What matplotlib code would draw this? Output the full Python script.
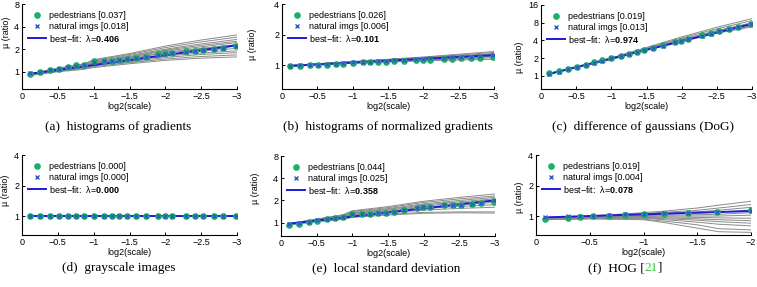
import numpy as np
import matplotlib
matplotlib.use("Agg")
import matplotlib.pyplot as plt
from matplotlib.offsetbox import TextArea, HPacker, AnnotationBbox

plt.rcParams["font.family"] = ["Liberation Sans", "DejaVu Sans"]
plt.rcParams["mathtext.fontset"] = "custom"
plt.rcParams["mathtext.rm"] = "Liberation Sans"
plt.rcParams["mathtext.bf"] = "Liberation Sans:bold"

# x positions of the scales (log2(scale))
xs = [-0.11, -0.25, -0.39, -0.51, -0.64, -0.76, -0.87, -1.0, -1.14, -1.25, -1.36, -1.47,
      -1.59, -1.73, -1.90, -1.99, -2.09, -2.29, -2.41, -2.53, -2.68, -2.80, -2.99]
xs_f = [-0.084, -0.295, -0.41, -0.53, -0.68, -0.83, -1.0, -1.19, -1.41, -1.68, -2.0]

# (a) histograms of gradients
ped_a = [0.93, 0.99, 1.05, 1.10, 1.16, 1.22, 1.25, 1.38, 1.39, 1.41, 1.44, 1.47,
         1.52, 1.57, 1.70, 1.76, 1.80, 1.88, 1.92, 1.96, 2.03, 2.10, 2.24]
nat_a = [0.95, 1.00, 1.05, 1.10, 1.16, 1.21, 1.25, 1.36, 1.38, 1.40, 1.43, 1.47,
         1.52, 1.57, 1.67, 1.74, 1.80, 1.86, 1.90, 1.94, 2.02, 2.10, 2.20]
fit_a = [0.94, 2.25]
nodes_a = [-0.1, -0.5, -0.87, -1.0, -1.5, -2.0, -2.5, -3.0]
gray_a = [[0.93, 1.12, 1.28, 1.45, 1.75, 2.20, 2.65, 3.10],
          [0.93, 1.10, 1.26, 1.42, 1.70, 2.10, 2.50, 2.90],
          [0.92, 1.09, 1.24, 1.38, 1.65, 2.00, 2.35, 2.70],
          [0.92, 1.08, 1.22, 1.35, 1.60, 1.95, 2.25, 2.55],
          [0.92, 1.08, 1.21, 1.33, 1.57, 1.90, 2.15, 2.45],
          [0.91, 1.07, 1.20, 1.30, 1.53, 1.83, 2.05, 2.30],
          [0.91, 1.06, 1.18, 1.28, 1.50, 1.78, 1.98, 2.20],
          [0.91, 1.05, 1.16, 1.25, 1.45, 1.70, 1.88, 2.05],
          [0.90, 1.04, 1.14, 1.22, 1.40, 1.62, 1.78, 1.90],
          [0.90, 1.03, 1.12, 1.20, 1.36, 1.55, 1.70, 1.80],
          [0.90, 1.02, 1.10, 1.17, 1.32, 1.48, 1.60, 1.68],
          [0.89, 1.00, 1.08, 1.14, 1.28, 1.42, 1.52, 1.58]]

# (b) histograms of normalized gradients
ped_b = [0.97, 0.98, 0.99, 1.00, 1.01, 1.02, 1.03, 1.05, 1.06, 1.06, 1.07, 1.08,
         1.09, 1.10, 1.11, 1.12, 1.13, 1.14, 1.15, 1.16, 1.17, 1.18, 1.21]
nat_b = [0.98, 0.99, 1.00, 1.01, 1.02, 1.03, 1.04, 1.06, 1.07, 1.08, 1.09, 1.10,
         1.11, 1.12, 1.14, 1.15, 1.16, 1.18, 1.19, 1.20, 1.21, 1.23, 1.26]
fit_b = [0.98, 1.25]
nodes_b = [-0.1, -1.0, -2.0, -3.0]
gray_b = [[0.97, 1.04, 1.10, 1.14], [0.97, 1.05, 1.12, 1.18], [0.98, 1.05, 1.13, 1.21],
          [0.98, 1.06, 1.15, 1.24], [0.98, 1.07, 1.16, 1.27], [0.99, 1.07, 1.18, 1.30],
          [0.99, 1.08, 1.19, 1.33], [0.99, 1.08, 1.20, 1.36], [0.98, 1.06, 1.14, 1.22],
          [0.98, 1.07, 1.17, 1.28]]

# (c) difference of gaussians
ped_c = [1.10, 1.19, 1.31, 1.43, 1.56, 1.70, 1.84, 2.00, 2.20, 2.37, 2.57, 2.78,
         3.00, 3.30, 3.72, 3.98, 4.25, 4.90, 5.30, 5.75, 6.35, 6.90, 7.70]
nat_c = [1.08, 1.18, 1.30, 1.42, 1.55, 1.68, 1.82, 1.98, 2.18, 2.35, 2.55, 2.75,
         2.98, 3.28, 3.70, 3.95, 4.20, 4.85, 5.25, 5.70, 6.30, 6.85, 7.60]
fit_c = [1.08, 7.6]
nodes_c = [-0.1, -1.0, -1.5, -2.0, -2.5, -3.0]
gray_c = [[1.08, 1.98, 2.90, 4.20, 5.90, 8.00],
          [1.07, 1.95, 2.85, 4.10, 5.70, 7.60],
          [1.06, 1.92, 2.80, 4.00, 5.50, 7.20],
          [1.08, 2.00, 2.95, 4.40, 6.30, 8.70],
          [1.09, 2.02, 3.05, 4.60, 6.70, 9.40],
          [1.07, 1.96, 2.85, 4.05, 5.60, 7.00],
          [1.06, 1.90, 2.75, 3.90, 5.30, 6.80]]

# (d) grayscale images
ped_d = [1.0] * len(xs)
nat_d = [1.0] * len(xs)
fit_d = [1.0, 1.0]
nodes_d = [-0.1, -3.0]
gray_d = [[1.0, 1.0]]

# (e) local standard deviation
ped_e = [0.92, 0.96, 1.02, 1.07, 1.12, 1.16, 1.20, 1.32, 1.33, 1.33, 1.35, 1.37,
         1.40, 1.48, 1.57, 1.62, 1.62, 1.72, 1.73, 1.75, 1.78, 1.82, 1.90]
nat_e = [0.95, 0.98, 1.03, 1.08, 1.13, 1.16, 1.20, 1.32, 1.32, 1.33, 1.35, 1.37,
         1.40, 1.47, 1.58, 1.62, 1.64, 1.71, 1.73, 1.75, 1.80, 1.86, 2.00]
fit_e = [0.97, 2.0]
nodes_e = [-0.1, -0.5, -0.87, -1.0, -1.5, -2.0, -2.5, -3.0]
gray_e = [[0.96, 1.12, 1.28, 1.45, 1.65, 1.95, 2.20, 2.45],
          [0.96, 1.11, 1.26, 1.42, 1.60, 1.88, 2.10, 2.30],
          [0.95, 1.10, 1.24, 1.38, 1.55, 1.80, 2.00, 2.20],
          [0.95, 1.09, 1.22, 1.35, 1.52, 1.74, 1.92, 2.10],
          [0.95, 1.08, 1.20, 1.32, 1.48, 1.68, 1.85, 2.00],
          [0.94, 1.07, 1.18, 1.29, 1.44, 1.62, 1.76, 1.88],
          [0.94, 1.06, 1.16, 1.26, 1.40, 1.55, 1.66, 1.75],
          [0.93, 1.05, 1.14, 1.23, 1.36, 1.48, 1.56, 1.62],
          [0.93, 1.04, 1.12, 1.20, 1.30, 1.38, 1.40, 1.40],
          [0.93, 1.03, 1.11, 1.18, 1.27, 1.34, 1.36, 1.35]]

# (f) HOG
ped_f = [0.94, 0.96, 0.98, 0.99, 1.00, 1.02, 1.04, 1.05, 1.07, 1.09, 1.15]
nat_f = [0.97, 0.99, 1.00, 1.01, 1.02, 1.04, 1.05, 1.06, 1.08, 1.09, 1.13]
fit_f = [0.97, 1.12]
nodes_f = [-0.084, -0.5, -1.0, -1.2, -1.5, -1.7, -2.0]
gray_f = [[0.96, 1.00, 1.08, 1.12, 1.20, 1.28, 1.40],
          [0.95, 0.99, 1.06, 1.09, 1.14, 1.20, 1.30],
          [0.95, 0.99, 1.05, 1.07, 1.10, 1.14, 1.22],
          [0.95, 0.98, 1.03, 1.05, 1.07, 1.09, 1.15],
          [0.94, 0.97, 1.01, 1.02, 1.03, 1.04, 1.08],
          [0.94, 0.97, 0.99, 1.00, 1.00, 1.00, 1.02],
          [0.94, 0.96, 0.98, 0.98, 0.97, 0.96, 0.95],
          [0.93, 0.96, 0.97, 0.96, 0.94, 0.92, 0.90],
          [0.93, 0.95, 0.96, 0.94, 0.91, 0.88, 0.85],
          [0.93, 0.95, 0.95, 0.92, 0.87, 0.83, 0.80],
          [0.92, 0.94, 0.93, 0.89, 0.82, 0.75, 0.73],
          [0.92, 0.94, 0.92, 0.86, 0.76, 0.70, 0.69]]

ped_err = ["0.037", "0.026", "0.019", "0.000", "0.044", "0.019"]
nat_err = ["0.018", "0.006", "0.013", "0.000", "0.025", "0.004"]
lambdas = ["0.406", "0.101", "0.974", "0.000", "0.358", "0.078"]

W, H = 757, 287
fig = plt.figure(figsize=(W / 100, H / 100), dpi=100)

GREEN = "#1fae66"
BLUE_X = "#2b5cc8"
BLUE_LINE = "#1a1ae0"
GRAY = "#8a8a8a"


def panel(box, x, ped, nat, fit, nodes, gray, ymax, yticks, xmin, pe, ne, lam, ylab, ybot):
    L, R, T, B = box
    ax = fig.add_axes([L / W, 1 - B / H, (R - L) / W, (B - T) / H])
    for g in gray:
        ax.plot(nodes, g, color=GRAY, lw=0.7, zorder=1)
    ax.plot([x[0], x[-1]], fit, color=BLUE_LINE, lw=1.4, zorder=2,
            label=r"best−fit:  λ=$\mathbf{" + lam + "}$")
    ax.plot(x, ped, "o", color=GREEN, ms=3.8, mec=GREEN, zorder=3,
            label="pedestrians [" + pe + "]")
    ax.plot(x, nat, "x", color=BLUE_X, ms=3.2, mew=1.0, zorder=4,
            label="natural imgs [" + ne + "]")
    ax.set_yscale("log", base=2)
    ax.set_ylim(ybot, ymax)
    ax.set_yticks(yticks)
    ax.set_yticklabels([str(t) for t in yticks])
    ax.minorticks_off()
    ax.set_xlim(0, xmin)
    xt = np.arange(0, xmin - 0.01, -0.5)
    ax.set_xticks(xt)
    ax.set_xticklabels(["0" if t == 0 else ("−%g" % -t) for t in xt])
    ax.tick_params(direction="in", length=2.5, width=0.7, labelsize=6.5, pad=2)
    for s in ["top", "right"]:
        ax.spines[s].set_visible(False)
    for s in ["left", "bottom"]:
        ax.spines[s].set_linewidth(0.8)
    ax.set_xlabel("log2(scale)", fontsize=6.5, labelpad=1)
    ax.set_ylabel("µ (ratio)", fontsize=6.5)
    ax.yaxis.set_label_coords(ylab[0], ylab[1])
    h, l = ax.get_legend_handles_labels()
    ax.legend([h[1], h[2], h[0]], [l[1], l[2], l[0]], loc="upper left",
              bbox_to_anchor=(6 / (R - L), 1 - 7 / (B - T)), borderaxespad=0,
              borderpad=0, frameon=False, fontsize=6.5, handlelength=2.0,
              handletextpad=0.3, labelspacing=0.2, numpoints=1)
    return ax


panel((22, 237, 4, 89), xs, ped_a, nat_a, fit_a, nodes_a, gray_a, 8, [1, 2, 4, 8], -3,
      ped_err[0], nat_err[0], lambdas[0], (-0.051, 0.67), 0.59)
panel((282, 494, 4, 89), xs, ped_b, nat_b, fit_b, nodes_b, gray_b, 4, [1, 2, 4], -3,
      ped_err[1], nat_err[1], lambdas[1], (-0.118, 0.52), 0.58)
panel((541, 752, 5, 89), xs, ped_c, nat_c, fit_c, nodes_c, gray_c, 16, [1, 2, 4, 8, 16], -3,
      ped_err[2], nat_err[2], lambdas[2], (-0.081, 0.38), 0.6)
panel((22, 237, 155, 235), xs, ped_d, nat_d, fit_d, nodes_d, gray_d, 4, [1, 2, 4], -3,
      ped_err[3], nat_err[3], lambdas[3], (-0.056, 0.56), 0.65)
panel((281, 495, 156, 236), xs, ped_e, nat_e, fit_e, nodes_e, gray_e, 8, [1, 2, 4, 8], -3,
      ped_err[4], nat_err[4], lambdas[4], (-0.098, 0.59), 0.66)
panel((536, 751, 155, 235), xs_f, ped_f, nat_f, fit_f, nodes_f, gray_f, 4, [1, 2, 4], -2,
      ped_err[5], nat_err[5], lambdas[5], (-0.056, 0.475), 0.65)

cap = dict(family=["Liberation Serif", "DejaVu Serif"], fontsize=9.5, ha="center", va="center")
fig.text(118 / W, 1 - 127 / H, "(a)  histograms of gradients", **cap)
fig.text(388 / W, 1 - 127 / H, "(b)  histograms of normalized gradients", **cap)
fig.text(643 / W, 1 - 127 / H, "(c)  difference of gaussians (DoG)", **cap)
fig.text(119 / W, 1 - 268 / H, "(d)  grayscale images", **cap)
fig.text(386 / W, 1 - 268 / H, "(e)  local standard deviation", **cap)

tp = dict(family=["Liberation Serif", "DejaVu Serif"], fontsize=9.5)
parts = HPacker(children=[TextArea("(f)  HOG [", textprops=tp),
                          TextArea("21", textprops=dict(tp, color="#33cc33")),
                          TextArea("]", textprops=tp)],
                sep=0, pad=0, align="baseline")
fig.add_artist(AnnotationBbox(parts, (625 / W, 1 - 268 / H), xycoords="figure fraction",
                              frameon=False, box_alignment=(0.5, 0.5), pad=0))

fig.savefig("out.png", dpi=100)
